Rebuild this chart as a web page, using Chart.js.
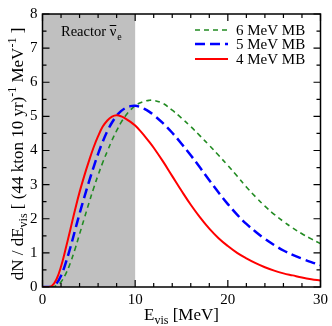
<!DOCTYPE html>
<html>
<head>
<meta charset="utf-8">
<script src="https://cdn.jsdelivr.net/npm/chart.js@4"></script>
<style>
  html, body { margin: 0; padding: 0; background: #fff; }
  #wrap { width: 332px; height: 326px; }
</style>
</head>
<body>
<div id="wrap"><canvas id="spec"></canvas></div>
<script>
// 可視エネルギー (MeV)
const energies = [0, 0.5, 1, 1.5, 2, 2.5, 3, 3.5, 4, 4.5, 5, 5.5, 6, 6.5, 7, 7.5, 8, 8.5, 9, 9.5, 10, 10.5, 11, 11.5, 12,
  13, 14, 15, 16, 17, 18, 19, 20, 21, 22, 23, 24, 25, 26, 27, 28, 29, 30];

// 各スペクトル (dN/dE)
const mb6 = [0, 0, 0, 0.04, 0.15, 0.38, 0.7, 1.1, 1.55, 2.0, 2.45, 2.88, 3.28, 3.65, 3.98, 4.3, 4.58, 4.83, 5.03, 5.19, 5.31, 5.39, 5.44, 5.47, 5.47,
  5.38, 5.18, 4.95, 4.7, 4.43, 4.15, 3.86, 3.56, 3.25, 2.93, 2.64, 2.37, 2.13, 1.92, 1.73, 1.56, 1.41, 1.27];
const mb5 = [0, 0, 0.01, 0.1, 0.33, 0.7, 1.15, 1.65, 2.15, 2.62, 3.07, 3.5, 3.9, 4.26, 4.57, 4.82, 5.02, 5.16, 5.25, 5.3, 5.31, 5.28, 5.22, 5.14, 5.04,
  4.8, 4.52, 4.2, 3.86, 3.5, 3.13, 2.77, 2.43, 2.12, 1.85, 1.62, 1.41, 1.23, 1.07, 0.94, 0.83, 0.73, 0.64];
const mb4 = [0, 0, 0.03, 0.22, 0.6, 1.12, 1.68, 2.25, 2.78, 3.25, 3.68, 4.08, 4.42, 4.7, 4.88, 4.99, 5.03, 5.0, 4.93, 4.84, 4.73, 4.59, 4.43, 4.26, 4.08,
  3.68, 3.25, 2.82, 2.41, 2.04, 1.71, 1.43, 1.2, 1.0, 0.84, 0.7, 0.58, 0.48, 0.4, 0.34, 0.28, 0.23, 0.19];

const seriesLabels = ['6 MeV MB', '5 MeV MB', '4 MeV MB'];
const xRange = [0, 30];
const yRange = [0, 8];
const xMinorStep = 2, xMajorStep = 10;
const yMinorStep = 0.5, yMajorStep = 1;
const reactorEdge = 10; // 原子炉ニュートリノ領域の上限

const SERIF = '"Liberation Serif", "DejaVu Serif", serif';

function toPoints(vals) {
  return energies.map((e, i) => ({ x: e, y: vals[i] }));
}

// 文字列を上付き・下付きつきで描く
function drawRich(ctx, parts, x, y) {
  parts.forEach(p => {
    ctx.font = p.size + 'px ' + SERIF;
    ctx.fillText(p.t, x, y + (p.dy || 0));
    x += ctx.measureText(p.t).width;
  });
  return x;
}
function richWidth(ctx, parts) {
  let w = 0;
  parts.forEach(p => { ctx.font = p.size + 'px ' + SERIF; w += ctx.measureText(p.t).width; });
  return w;
}

const decorPlugin = {
  id: 'decor',
  beforeDatasetsDraw(chart) {
    const { ctx, chartArea: a, scales: { x } } = chart;
    ctx.save();
    ctx.fillStyle = '#c0c0c0';
    ctx.fillRect(a.left, a.top, x.getPixelForValue(reactorEdge) - a.left, a.bottom - a.top);
    ctx.restore();
  },
  afterDraw(chart) {
    const { ctx, chartArea: a, scales: { x, y } } = chart;
    ctx.save();
    ctx.strokeStyle = '#000';
    ctx.lineWidth = 1.5;
    ctx.strokeRect(a.left, a.top, a.right - a.left, a.bottom - a.top);

    // 内向きの目盛り
    ctx.lineWidth = 1.2;
    ctx.beginPath();
    for (let v = xRange[0]; v <= xRange[1] + 1e-9; v += xMinorStep) {
      const px = x.getPixelForValue(v);
      const len = Math.abs(v % xMajorStep) < 1e-9 ? 7 : 4;
      ctx.moveTo(px, a.bottom); ctx.lineTo(px, a.bottom - len);
      ctx.moveTo(px, a.top); ctx.lineTo(px, a.top + len);
    }
    for (let v = yRange[0]; v <= yRange[1] + 1e-9; v += yMinorStep) {
      const py = y.getPixelForValue(v);
      const len = Math.abs(v % yMajorStep) < 1e-9 ? 7 : 4;
      ctx.moveTo(a.left, py); ctx.lineTo(a.left + len, py);
      ctx.moveTo(a.right, py); ctx.lineTo(a.right - len, py);
    }
    ctx.stroke();

    ctx.fillStyle = '#000';
    ctx.textBaseline = 'alphabetic';

    // Reactor ν̄e
    let tx = drawRich(ctx, [{ t: 'Reactor ', size: 14.5 }], 61, 36);
    ctx.font = '14.5px ' + SERIF;
    const nuW = ctx.measureText('ν').width;
    drawRich(ctx, [{ t: 'ν', size: 14.5 }], tx, 36);
    ctx.lineWidth = 1;
    ctx.beginPath();
    ctx.moveTo(tx, 25.5); ctx.lineTo(tx + nuW, 25.5);
    ctx.stroke();
    drawRich(ctx, [{ t: 'e', size: 10 }], tx + nuW + 1, 40);

    // 凡例
    const rows = [30, 44, 59];
    chart.data.datasets.forEach((ds, i) => {
      const ly = rows[i];
      ctx.strokeStyle = ds.borderColor;
      ctx.lineWidth = ds.borderWidth;
      ctx.setLineDash(ds.borderDash || []);
      ctx.beginPath();
      ctx.moveTo(195, ly); ctx.lineTo(228, ly);
      ctx.stroke();
      ctx.setLineDash([]);
      ctx.textBaseline = 'middle';
      ctx.font = '15px ' + SERIF;
      ctx.fillText(ds.label, 236, ly + 1);
    });

    // 軸タイトル
    ctx.textBaseline = 'alphabetic';
    const xt = [{ t: 'E', size: 17 }, { t: 'vis', size: 12, dy: 4 }, { t: ' [MeV]', size: 17 }];
    const xw = richWidth(ctx, xt);
    drawRich(ctx, xt, (a.left + a.right) / 2 - xw / 2, 320);

    const yt = [
      { t: 'dN / dE', size: 17 }, { t: 'vis', size: 12, dy: 4 },
      { t: ' [ (44 kton 10 yr)', size: 17 }, { t: '-1', size: 12, dy: -7 },
      { t: ' MeV', size: 17 }, { t: '-1', size: 12, dy: -7 }, { t: ' ]', size: 17 }
    ];
    const yw = richWidth(ctx, yt);
    ctx.translate(23, 154);
    ctx.rotate(-Math.PI / 2);
    drawRich(ctx, yt, -yw / 2, 0);
    ctx.restore();
  }
};

new Chart(document.getElementById('spec'), {
  type: 'line',
  data: {
    datasets: [
      {
        label: seriesLabels[0],
        data: toPoints(mb6),
        borderColor: '#228B22',
        borderWidth: 1.6,
        borderDash: [5, 4],
        order: 3
      },
      {
        label: seriesLabels[1],
        data: toPoints(mb5),
        borderColor: '#0000ff',
        borderWidth: 2.5,
        borderDash: [10, 5],
        order: 2
      },
      {
        label: seriesLabels[2],
        data: toPoints(mb4),
        borderColor: '#ff0000',
        borderWidth: 2,
        order: 1
      }
    ]
  },
  options: {
    responsive: true,
    maintainAspectRatio: false,
    animation: false,
    events: [],
    layout: { padding: { top: 6, right: 9, left: 0, bottom: 0 } },
    elements: {
      point: { radius: 0 },
      line: { tension: 0.4, fill: false }
    },
    plugins: {
      legend: { display: false },
      tooltip: { enabled: false }
    },
    scales: {
      x: {
        type: 'linear',
        min: xRange[0], max: xRange[1],
        grid: { display: false, drawTicks: false },
        border: { display: false },
        ticks: {
          stepSize: xMajorStep,
          padding: 4,
          color: '#000',
          maxRotation: 0,
          font: { family: SERIF, size: 15 }
        },
        afterFit(scale) { scale.height = 39; }
      },
      y: {
        type: 'linear',
        min: yRange[0], max: yRange[1],
        grid: { display: false, drawTicks: false },
        border: { display: false },
        ticks: {
          stepSize: yMajorStep,
          padding: 5,
          color: '#000',
          font: { family: SERIF, size: 15 }
        },
        afterFit(scale) { scale.width = 42.5; }
      }
    }
  },
  plugins: [decorPlugin]
});
</script>
</body>
</html>
